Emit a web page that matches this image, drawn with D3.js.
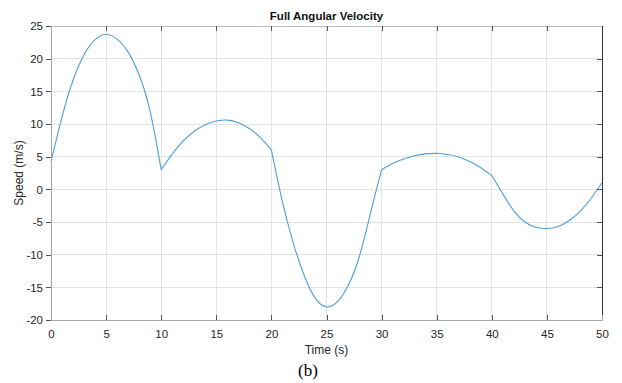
<!DOCTYPE html>
<html>
<head>
<meta charset="utf-8">
<script src="https://cdn.jsdelivr.net/npm/d3@7"></script>
<style>
  html, body { margin: 0; padding: 0; background: #fff; }
  svg { display: block; }
</style>
</head>
<body>
<svg id="chart" width="622" height="383"></svg>
<script>
// ---- data ----
const title = "Full Angular Velocity";
const xLabel = "Time (s)";
const yLabel = "Speed (m/s)";
const caption = "(b)";
const time = d3.range(0, 51, 1);
const speed = [
  4.2, 11.1, 16.7, 20.6, 22.9, 23.7, 23.0, 21.0, 17.5, 11.9,     // 0-9
  3.0, 5.4, 7.4, 8.9, 9.9, 10.45, 10.6, 10.2, 9.3, 7.9,          // 10-19
  6.0, -1.9, -8.3, -13.3, -16.7, -18.0, -17.2, -14.6, -10.2, -3.6, // 20-29
  3.0, 3.95, 4.65, 5.15, 5.43, 5.5, 5.32, 4.95, 4.25, 3.3,       // 30-39
  2.1, -0.7, -3.3, -5.0, -5.8, -6.0, -5.7, -4.8, -3.4, -1.4,     // 40-49
  1.0                                                            // 50
];
const segmentBreaks = [0, 10, 20, 30, 40, 50];
const xTicks = [0, 5, 10, 15, 20, 25, 30, 35, 40, 45, 50];
const yTicks = [-20, -15, -10, -5, 0, 5, 10, 15, 20, 25];

// ---- layout ----
const svg = d3.select("#chart");
const L = 51, R = 602, T = 26, B = 320;
const x = d3.scaleLinear().domain([0, 50]).range([L, R]);
const y = d3.scaleLinear().domain([-20, 25]).range([B, T]);
const font = "'Liberation Sans', Arial, Helvetica, sans-serif";
const txt = "#262626";
const fmt = d => String(d);

// grid
svg.append("g").selectAll("line").data(xTicks.slice(1, -1)).join("line")
  .attr("x1", d => x(d)).attr("x2", d => x(d)).attr("y1", T).attr("y2", B)
  .attr("stroke", "#e3e3e3").attr("stroke-width", 1).attr("shape-rendering", "crispEdges");
svg.append("g").selectAll("line").data(yTicks.slice(1, -1)).join("line")
  .attr("x1", L).attr("x2", R).attr("y1", d => y(d)).attr("y2", d => y(d))
  .attr("stroke", "#e3e3e3").attr("stroke-width", 1).attr("shape-rendering", "crispEdges");

// data line, drawn piecewise so the kinks at segment boundaries stay sharp
const pts = time.map((t, i) => ({ t, v: speed[i] }));
const line = d3.line().x(d => x(d.t)).y(d => y(d.v)).curve(d3.curveNatural);
for (let s = 0; s < segmentBreaks.length - 1; s++) {
  const seg = pts.filter(p => p.t >= segmentBreaks[s] && p.t <= segmentBreaks[s + 1]);
  svg.append("path").datum(seg).attr("d", line)
    .attr("fill", "none").attr("stroke", "#4f9fd8").attr("stroke-width", 1.1);
}

// box
svg.append("line").attr("x1", L).attr("x2", R).attr("y1", T).attr("y2", T)
  .attr("stroke", "#bdbdbd").attr("shape-rendering", "crispEdges");
svg.append("line").attr("x1", R).attr("x2", R).attr("y1", T).attr("y2", B)
  .attr("stroke", "#333").attr("shape-rendering", "crispEdges");

// axes via d3
const xAxis = svg.append("g").attr("transform", `translate(0,${B})`)
  .call(d3.axisBottom(x).tickValues(xTicks).tickSize(-5).tickPadding(10).tickFormat(fmt));
const xTop = svg.append("g").attr("transform", `translate(0,${T})`)
  .call(d3.axisTop(x).tickValues(xTicks).tickSize(-5).tickFormat(""));
const yAxis = svg.append("g").attr("transform", `translate(${L},0)`)
  .call(d3.axisLeft(y).tickValues(yTicks).tickSize(5).tickPadding(3).tickFormat(fmt));
const yRight = svg.append("g").attr("transform", `translate(${R},0)`)
  .call(d3.axisRight(y).tickValues(yTicks).tickSize(-5).tickFormat(""));

[xAxis, yAxis].forEach(g => {
  g.select(".domain").attr("stroke", "#a6a6a6").attr("shape-rendering", "crispEdges");
  g.selectAll(".tick line").attr("stroke", "#555").attr("shape-rendering", "crispEdges");
  g.selectAll("text").attr("font-family", font).attr("font-size", 11.5).attr("fill", txt);
});
[xTop, yRight].forEach(g => {
  g.select(".domain").remove();
  g.selectAll(".tick line").attr("stroke", "#555").attr("shape-rendering", "crispEdges");
});
xAxis.selectAll(".tick").filter(d => d === 0 || d === 50).select("line").remove();
xTop.selectAll(".tick").filter(d => d === 0 || d === 50).select("line").remove();
yRight.selectAll(".tick").filter(d => d === -20 || d === 25).select("line").remove();

// labels
svg.append("text").attr("x", (L + R) / 2).attr("y", 20).attr("text-anchor", "middle")
  .attr("font-family", font).attr("font-weight", "bold").attr("font-size", 11.5).attr("fill", "#111")
  .text(title);
svg.append("text").attr("x", (L + R) / 2).attr("y", 354).attr("text-anchor", "middle")
  .attr("font-family", font).attr("font-size", 12).attr("fill", txt).text(xLabel);
svg.append("text").attr("transform", `translate(23,${(T + B) / 2}) rotate(-90)`)
  .attr("text-anchor", "middle").attr("font-family", font).attr("font-size", 12).attr("fill", txt)
  .text(yLabel);
svg.append("text").attr("x", 308).attr("y", 376).attr("text-anchor", "middle")
  .attr("font-family", "'Liberation Serif', 'Times New Roman', serif").attr("font-size", 17)
  .attr("fill", "#000").text(caption);
</script>
</body>
</html>
